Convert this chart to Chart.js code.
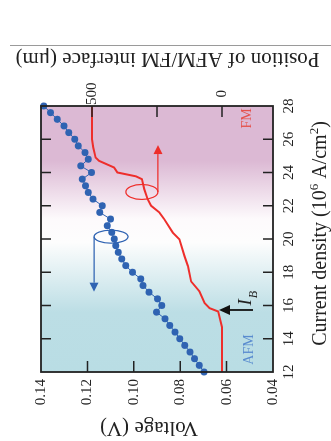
<!DOCTYPE html>
<html><head><meta charset="utf-8">
<script src="https://cdn.jsdelivr.net/npm/chart.js@4/dist/chart.umd.min.js"></script>
<style>
html,body{margin:0;padding:0;background:#fff;overflow:hidden;width:331px;height:441px;}
#wrap{position:absolute;left:0;top:0;width:441px;height:331px;transform-origin:0 0;transform:translateY(441px) rotate(-90deg);}
canvas{display:block;}
</style></head><body>
<div id="wrap"><canvas id="c" width="441" height="331" style="width:441px;height:331px"></canvas></div>
<script>
// ---- data ----
const currentDensity = [12.0,12.4,12.8,13.2,13.6,14.0,14.4,14.8,15.2,15.6,16.0,16.4,16.8,17.2,17.6,18.0,18.4,18.8,19.2,19.6,20.0,20.4,20.8,21.2,21.6,22.0,22.4,22.8,23.2,23.6,24.0,24.4,24.8,25.2,25.6,26.0,26.4,26.8,27.2,27.6,28.0];
const voltage = [0.0697,0.0718,0.0738,0.0758,0.0780,0.0802,0.0822,0.0845,0.0865,0.0902,0.0880,0.0898,0.0934,0.0960,0.0970,0.1006,0.1035,0.1052,0.1067,0.1078,0.1084,0.1095,0.1114,0.1100,0.1147,0.1136,0.1176,0.1196,0.1208,0.1222,0.1182,0.1229,0.1196,0.1210,0.1239,0.1254,0.1280,0.1301,0.1330,0.1359,0.1388];
const interfaceJ = [12.0,14.7,15.64,15.84,16.15,16.85,17.45,18.36,18.97,19.98,20.38,21.19,21.6,22.0,22.4,23.0,23.6,23.77,24.0,24.3,24.7,24.9,25.5,26.0,28.0];
const interfacePosition = [0,0,15,48,67,87,119,131,144,164,189,222,241,273,286,299,308,331,402,415,473,486,495,500,500];
const currentTicks = [12,14,16,18,20,22,24,26,28];
const voltageTicks = [0.04,0.06,0.08,0.10,0.12,0.14];
const positionLabelTicks = [0,500];
const positionTickMarks = [0,250,500];

const SERIF = '"Liberation Serif","Times New Roman",serif';
const BLUE = '#2f63b2';
const RED = '#ee2e2b';
const TITLE_SIZE = 21;

const deco = {
  id: 'deco',
  beforeDatasetsDraw(chart) {
    const {ctx, chartArea: a, scales: {x}} = chart;
    const g = ctx.createLinearGradient(a.left, 0, a.right, 0);
    const f = j => (x.getPixelForValue(j) - a.left) / (a.right - a.left);
    g.addColorStop(0, '#b9dde4');
    g.addColorStop(f(15.6), '#bcdee5');
    g.addColorStop(f(19.8), '#fdfdfd');
    g.addColorStop(f(21.2), '#fdfafc');
    g.addColorStop(f(24.7), '#dcb9d4');
    g.addColorStop(1, '#dcb9d4');
    ctx.save();
    ctx.fillStyle = g;
    ctx.fillRect(a.left, a.top, a.right - a.left, a.bottom - a.top);
    ctx.restore();
  },
  afterDatasetsDraw(chart) {
    const {ctx, chartArea: a, scales: {x, y, y2}} = chart;
    ctx.save();
    // frame
    ctx.strokeStyle = '#222'; ctx.lineWidth = 1.8;
    ctx.strokeRect(a.left, a.top, a.right - a.left, a.bottom - a.top);
    // inward ticks
    ctx.lineWidth = 1.5;
    ctx.beginPath();
    currentTicks.slice(1, -1).forEach(v => {
      const px = x.getPixelForValue(v);
      ctx.moveTo(px, a.top); ctx.lineTo(px, a.top + 10);
      ctx.moveTo(px, a.bottom); ctx.lineTo(px, a.bottom - 10);
    });
    voltageTicks.slice(1, -1).forEach(v => {
      const py = y.getPixelForValue(v);
      ctx.moveTo(a.left, py); ctx.lineTo(a.left + 11, py);
    });
    positionTickMarks.forEach(v => {
      const py = y2.getPixelForValue(v);
      ctx.moveTo(a.right, py); ctx.lineTo(a.right - 11, py);
    });
    ctx.stroke();

    const arrow = (x1, y1, x2, y2_, color, lw, hl, hw) => {
      const ang = Math.atan2(y2_ - y1, x2 - x1);
      const bx = x2 - hl * Math.cos(ang), by = y2_ - hl * Math.sin(ang);
      ctx.strokeStyle = color; ctx.fillStyle = color; ctx.lineWidth = lw;
      ctx.beginPath(); ctx.moveTo(x1, y1); ctx.lineTo(bx, by); ctx.stroke();
      ctx.beginPath();
      ctx.moveTo(x2, y2_);
      ctx.lineTo(bx + hw / 2 * Math.sin(ang), by - hw / 2 * Math.cos(ang));
      ctx.lineTo(bx - hw / 2 * Math.sin(ang), by + hw / 2 * Math.cos(ang));
      ctx.closePath(); ctx.fill();
    };
    // red loop + arrow (points to right axis)
    const rcx = x.getPixelForValue(22.83), rcy = y2.getPixelForValue(308);
    ctx.strokeStyle = RED; ctx.lineWidth = 1.2;
    ctx.beginPath(); ctx.ellipse(rcx, rcy, 7.5, 16, 0, 0, Math.PI * 2); ctx.stroke();
    arrow(rcx, rcy + 16, x.getPixelForValue(25.65), rcy + 16, RED, 1.3, 9, 9);
    // blue loop + arrow (points to left axis)
    const bcx = x.getPixelForValue(20.14), bcy = y.getPixelForValue(0.1098);
    ctx.strokeStyle = BLUE; ctx.lineWidth = 1.2;
    ctx.beginPath(); ctx.ellipse(bcx, bcy, 6.5, 17, 0, 0, Math.PI * 2); ctx.stroke();
    arrow(bcx, bcy - 17, x.getPixelForValue(16.83), bcy - 17, BLUE, 1.3, 9, 9);
    // I_B arrow
    const ibx = x.getPixelForValue(15.73);
    arrow(ibx, y2.getPixelForValue(-119), ibx, y2.getPixelForValue(12), '#111', 1.8, 11, 10);
    ctx.fillStyle = '#222';
    ctx.textBaseline = 'alphabetic'; ctx.textAlign = 'left';
    ctx.font = 'italic 19px ' + SERIF;
    const ix0 = x.getPixelForValue(16.0), iy0 = y2.getPixelForValue(-113);
    ctx.fillText('I', ix0, iy0);
    const iw = ctx.measureText('I').width;
    ctx.font = 'italic 12px ' + SERIF;
    ctx.fillText('B', ix0 + iw + 1, iy0 + 6);
    // phase labels
    ctx.textAlign = 'center'; ctx.textBaseline = 'middle';
    ctx.font = '14px ' + SERIF;
    ctx.fillStyle = '#e5524c';
    ctx.fillText('FM', x.getPixelForValue(27.25), y.getPixelForValue(0.0512));
    ctx.fillStyle = '#5a8ccf';
    ctx.fillText('AFM', x.getPixelForValue(13.35), y.getPixelForValue(0.0503));

    // axis titles
    ctx.fillStyle = '#222';
    ctx.font = TITLE_SIZE + 'px ' + SERIF;
    ctx.save(); ctx.translate(13, 149); ctx.rotate(-Math.PI / 2);
    ctx.fillText('Voltage (V)', 0, 0); ctx.restore();
    ctx.save(); ctx.translate(382, 167.5); ctx.rotate(-Math.PI / 2);
    ctx.fillText('Position of AFM/FM interface (\u03bcm)', 0, 0); ctx.restore();
    // current density title with superscripts
    const CD = 20;
    const segs = [['Current density (10', CD, 0], ['6', 13, -8], [' A/cm', CD, 0], ['2', 13, -8], [')', CD, 0]];
    let tw = 0;
    segs.forEach(s => { ctx.font = s[1] + 'px ' + SERIF; tw += ctx.measureText(s[0]).width; });
    let cx = 207.5 - tw / 2;
    ctx.textAlign = 'left'; ctx.textBaseline = 'alphabetic';
    segs.forEach(s => { ctx.font = s[1] + 'px ' + SERIF; ctx.fillText(s[0], cx, 326 + s[2]); cx += ctx.measureText(s[0]).width; });
    // figure border line
    ctx.strokeStyle = '#9a9a9a'; ctx.lineWidth = 1;
    ctx.beginPath(); ctx.moveTo(395.5, 10); ctx.lineTo(395.5, 331); ctx.stroke();
    ctx.restore();
  }
};

new Chart(document.getElementById('c'), {
  data: {
    datasets: [
      {
        type: 'line', label: 'Voltage',
        data: currentDensity.map((j, i) => ({x: j, y: voltage[i]})),
        xAxisID: 'x', yAxisID: 'y',
        borderColor: BLUE, borderWidth: 1, backgroundColor: BLUE,
        pointRadius: 3.5, pointBackgroundColor: BLUE, pointBorderWidth: 0,
        clip: false, order: 1
      },
      {
        type: 'line', label: 'Interface position',
        data: interfaceJ.map((j, i) => ({x: j, y: interfacePosition[i]})),
        xAxisID: 'x', yAxisID: 'y2',
        borderColor: RED, borderWidth: 2, pointRadius: 0,
        clip: false, order: 2
      }
    ]
  },
  options: {
    responsive: false, animation: false, devicePixelRatio: 1,
    layout: {padding: {top: 41, left: 0, right: 0, bottom: 0}},
    plugins: {legend: {display: false}, tooltip: {enabled: false}},
    scales: {
      x: {
        type: 'linear', position: 'bottom', min: 12, max: 28,
        afterBuildTicks: s => { s.ticks = currentTicks.map(v => ({value: v})); },
        afterFit: s => { s.height = 58; },
        grid: {display: false, drawTicks: false}, border: {display: false},
        ticks: {font: {family: SERIF, size: 15}, color: '#222', padding: 7, maxRotation: 0, autoSkip: false}
      },
      y: {
        type: 'linear', position: 'left', min: 0.04, max: 0.14,
        afterBuildTicks: s => { s.ticks = voltageTicks.map(v => ({value: v})); },
        afterFit: s => { s.width = 69; },
        grid: {display: false, drawTicks: false}, border: {display: false},
        ticks: {font: {family: SERIF, size: 15}, color: '#222', padding: 7, autoSkip: false, callback: v => v.toFixed(2)}
      },
      y2: {
        type: 'linear', position: 'right', min: -196, max: 696,
        afterBuildTicks: s => { s.ticks = positionLabelTicks.map(v => ({value: v})); },
        afterFit: s => { s.width = 106; },
        grid: {display: false, drawTicks: false}, border: {display: false},
        ticks: {font: {family: SERIF, size: 15}, color: '#222', padding: 1, crossAlign: 'center', autoSkip: false}
      }
    }
  },
  plugins: [deco]
});
</script>
</body></html>
